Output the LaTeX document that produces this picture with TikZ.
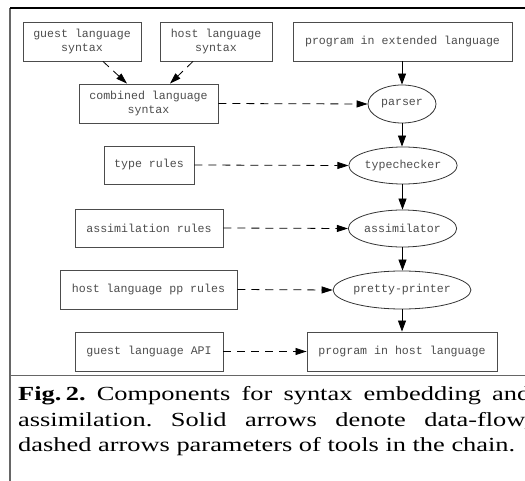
\documentclass[tikz,border=0pt]{standalone}
\usepackage{fontspec}
\usetikzlibrary{shapes.geometric,arrows.meta}
\newfontfamily\monofam{Liberation Mono}
\newfontfamily\capfam{Liberation Serif}
\frenchspacing
\begin{document}
\begin{tikzpicture}[x=1pt,y=-1pt,
  box/.style={draw=black!70,line width=0.9pt,rectangle,inner sep=0pt,align=center,
    font=\monofam\fontsize{11.6}{14}\selectfont,text=black!70},
  oval/.style={draw=black!80,line width=0.8pt,ellipse,inner sep=0pt,align=center,
    font=\monofam\fontsize{11.6}{14}\selectfont,text=black!70},
  flow/.style={draw=black,line width=0.8pt,-{Triangle[length=11pt,width=8pt]}},
  param/.style={draw=black,line width=0.8pt,dash pattern=on 8pt off 6pt,-{Triangle[length=11pt,width=7pt]}},
  frame/.style={line width=1.4pt},
  capline/.style={anchor=base west,inner sep=0pt,font=\capfam\fontsize{20}{25}\selectfont}]
\useasboundingbox (0,0) rectangle (525,481);
\clip (0,0) rectangle (525,481);
% frame
\draw[frame,black!60] (10,8) -- (10,481);
\draw[frame,black] (10,8) -- (525,8);
\draw[frame,black!60] (10,375.5) -- (525,375.5);
% nodes
\node[box,minimum width=118pt,minimum height=39pt] (g) at (82,41.5) {guest language\\syntax};
\node[box,minimum width=112pt,minimum height=39pt] (h) at (216,41.5) {host language\\syntax};
\node[box,minimum width=219pt,minimum height=39pt] (pe) at (402.5,41.5) {program in extended language};
\node[box,minimum width=139pt,minimum height=39pt] (c) at (148.5,103.5) {combined language\\syntax};
\node[oval,minimum width=68pt,minimum height=38pt] (p) at (402,104) {parser};
\node[box,minimum width=90pt,minimum height=38pt] (tr) at (149,165) {type rules};
\node[oval,minimum width=105pt,minimum height=37pt] (tc) at (403,165.5) {typechecker};
\node[box,minimum width=148pt,minimum height=38pt] (ar) at (149,228) {assimilation rules};
\node[oval,minimum width=105pt,minimum height=37pt] (as) at (402.5,228.5) {assimilator};
\node[box,minimum width=177pt,minimum height=39pt] (pp) at (148.5,289.5) {host language pp rules};
\node[oval,minimum width=126pt,minimum height=38pt] (ppr) at (402,290) {pretty-printer};
\node[box,minimum width=148pt,minimum height=39pt] (api) at (149,351.5) {guest language API};
\node[box,minimum width=190pt,minimum height=39pt] (ph) at (402,351.5) {program in host language};
% solid data flow
\draw[flow] (pe.south -| p.north) -- (p.north);
\draw[flow] (p.south) -- (tc.north -| p.south);
\draw[flow] (tc.south -| as.north) -- (as.north);
\draw[flow] (as.south) -- (ppr.north -| as.south);
\draw[flow] (ppr.south) -- (ph.north -| ppr.south);
% dashed parameters
\draw[param] ([xshift=21pt]g.south) -- ([xshift=-21.5pt]c.north);
\draw[param] ([xshift=-23pt]h.south) -- ([xshift=21.5pt]c.north);
\draw[param] (c.east) -- (p.west);
\draw[param] (tr.east) -- (tc.west);
\draw[param] (ar.east) -- (as.west);
\draw[param] (pp.east) -- (ppr.west);
\draw[param] (api.east) -- (ph.west);
% caption
\node[capline] (cap1) at (18,400.7)
  {\scalebox{1.32}[1]{\makebox[388pt][s]{\textbf{Fig.\,2.} Components for syntax embedding and}}};
\node[capline] (cap2) at (18,426)
  {\scalebox{1.32}[1]{\makebox[388pt][s]{assimilation. Solid arrows denote data-flow,}}};
\node[capline] (cap3) at (18,451.3)
  {\scalebox{1.32}[1]{dashed arrows parameters of tools in the chain.}};
\end{tikzpicture}
\end{document}
